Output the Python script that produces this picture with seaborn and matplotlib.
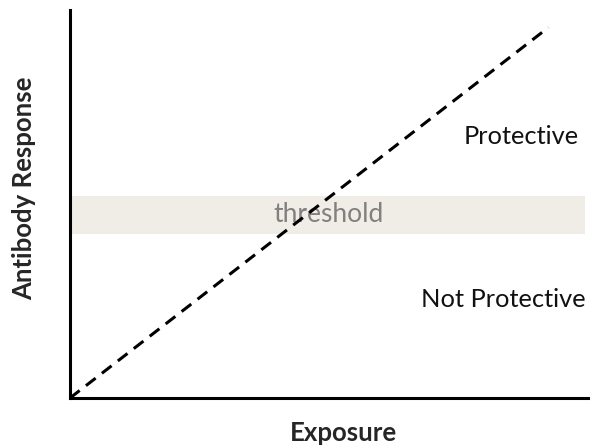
import matplotlib
matplotlib.use("Agg")
import matplotlib.pyplot as plt
import seaborn as sns
import pandas as pd

# data
exposure = [0, 92]
response = [0, 95.5]
threshold_band = [42.3, 52.1]
region_labels = ["Protective", "Not Protective"]
region_pos = [(97.8, 67.5), (99.2, 25.5)]

sns.set_style("white")
plt.rcParams['font.family'] = ['Lato', 'DejaVu Sans']

fig = plt.figure(figsize=(5.9, 4.47), dpi=100)
ax = fig.add_axes([70/590, 49/447, 1 - 70/590, 388/447])

# threshold band
ax.axhspan(threshold_band[0], threshold_band[1], xmin=0, xmax=0.99,
           color="#efede6", lw=0, zorder=0)
ax.text(49.8, sum(threshold_band) / 2, "threshold", color="#808080",
        fontsize=19, ha="center", va="center", zorder=1)

df = pd.DataFrame({"Exposure": exposure, "Antibody Response": response})
sns.lineplot(data=df, x="Exposure", y="Antibody Response", ax=ax,
             color="black", lw=2.2, linestyle=(0, (4, 2.6)), zorder=2)

for lab, (x, y) in zip(region_labels, region_pos):
    ax.text(x, y, lab, fontsize=18.3, ha="right", va="center", color="#111111")

ax.set_xlim(0, 100)
ax.set_ylim(0, 100)
ax.set_xticks([])
ax.set_yticks([])
ax.set_xlabel("Exposure", fontsize=18.5, fontweight="bold")
ax.set_ylabel("Antibody Response", fontsize=18.5, fontweight="bold")
ax.xaxis.set_label_coords(0.525, -0.058)
ax.yaxis.set_label_coords(-0.066, 0.54)
for s in ["top", "right"]:
    ax.spines[s].set_visible(False)
for s in ["left", "bottom"]:
    ax.spines[s].set_linewidth(2.2)
    ax.spines[s].set_color("black")

fig.savefig("out.png", dpi=100)
